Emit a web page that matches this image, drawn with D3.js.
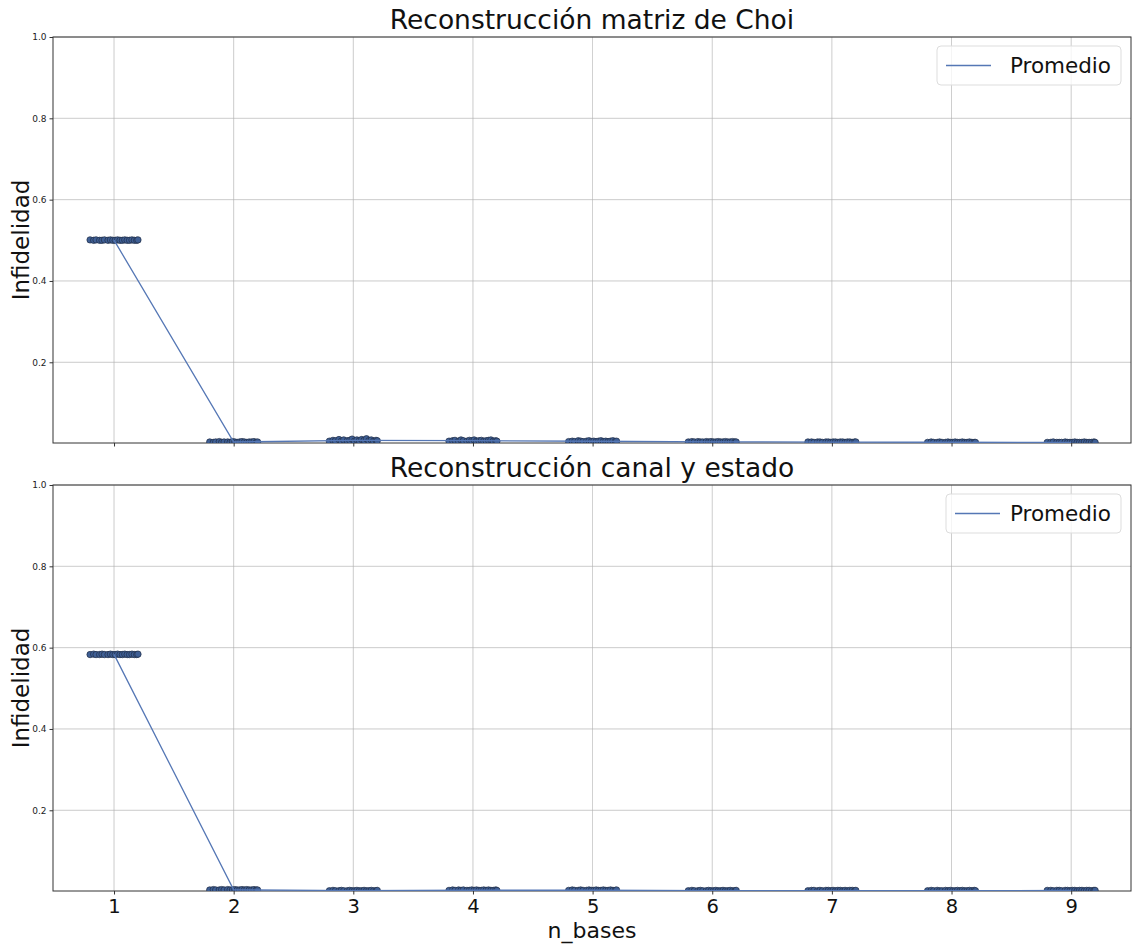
<!DOCTYPE html>
<html>
<head>
<meta charset="utf-8">
<script src="https://cdn.jsdelivr.net/npm/d3@7"></script>
<style>
  body { margin: 0; background: #fff; }
  text { font-family: "DejaVu Sans", sans-serif; }
</style>
</head>
<body>
<div id="chart"></div>
<script>
// categories (n_bases)
var nBases = [1, 2, 3, 4, 5, 6, 7, 8, 9];
var yTicks = [0.2, 0.4, 0.6, 0.8, 1.0];

// horizontal jitter of the strip points
var jitter = [-0.2, -0.17, -0.15, -0.12, -0.1, -0.08, -0.05, -0.03, -0.01, 0.01,
              0.03, 0.05, 0.07, 0.09, 0.11, 0.13, 0.15, 0.17, 0.19, 0.2];

// infidelity per run, top panel: "Reconstrucción matriz de Choi"
var choi = [
  [0.501, 0.500, 0.501, 0.500, 0.500, 0.501, 0.500, 0.501, 0.500, 0.500, 0.501, 0.500, 0.500, 0.501, 0.500, 0.500, 0.501, 0.500, 0.500, 0.501],
  [0.004, 0.003, 0.004, 0.005, 0.003, 0.004, 0.004, 0.003, 0.005, 0.004, 0.003, 0.004, 0.005, 0.004, 0.003, 0.004, 0.004, 0.005, 0.003, 0.004],
  [0.006, 0.008, 0.007, 0.010, 0.006, 0.009, 0.007, 0.008, 0.011, 0.006, 0.009, 0.007, 0.010, 0.008, 0.012, 0.007, 0.009, 0.006, 0.008, 0.007],
  [0.006, 0.007, 0.008, 0.006, 0.009, 0.007, 0.006, 0.008, 0.007, 0.009, 0.006, 0.007, 0.008, 0.006, 0.007, 0.008, 0.009, 0.006, 0.007, 0.006],
  [0.005, 0.006, 0.005, 0.007, 0.006, 0.005, 0.006, 0.007, 0.005, 0.006, 0.005, 0.006, 0.007, 0.005, 0.006, 0.005, 0.006, 0.007, 0.005, 0.006],
  [0.004, 0.005, 0.004, 0.005, 0.004, 0.004, 0.005, 0.004, 0.005, 0.004, 0.004, 0.005, 0.004, 0.004, 0.005, 0.004, 0.004, 0.005, 0.004, 0.004],
  [0.004, 0.004, 0.003, 0.004, 0.004, 0.003, 0.004, 0.004, 0.003, 0.004, 0.004, 0.003, 0.004, 0.004, 0.003, 0.004, 0.004, 0.003, 0.004, 0.004],
  [0.003, 0.004, 0.003, 0.003, 0.004, 0.003, 0.003, 0.004, 0.003, 0.003, 0.004, 0.003, 0.003, 0.004, 0.003, 0.003, 0.004, 0.003, 0.003, 0.003],
  [0.003, 0.003, 0.004, 0.003, 0.003, 0.003, 0.004, 0.003, 0.003, 0.003, 0.004, 0.003, 0.003, 0.003, 0.004, 0.003, 0.003, 0.003, 0.004, 0.003]
];

// infidelity per run, bottom panel: "Reconstrucción canal y estado"
var canal = [
  [0.583, 0.584, 0.583, 0.583, 0.584, 0.583, 0.583, 0.584, 0.583, 0.583, 0.584, 0.583, 0.583, 0.584, 0.583, 0.583, 0.584, 0.583, 0.583, 0.584],
  [0.004, 0.005, 0.004, 0.004, 0.005, 0.004, 0.005, 0.004, 0.004, 0.005, 0.004, 0.004, 0.005, 0.004, 0.005, 0.004, 0.004, 0.005, 0.004, 0.004],
  [0.002, 0.003, 0.002, 0.002, 0.003, 0.002, 0.002, 0.003, 0.002, 0.002, 0.003, 0.002, 0.002, 0.003, 0.002, 0.002, 0.003, 0.002, 0.002, 0.003],
  [0.003, 0.004, 0.003, 0.004, 0.003, 0.004, 0.003, 0.003, 0.004, 0.003, 0.004, 0.003, 0.003, 0.004, 0.003, 0.004, 0.003, 0.003, 0.004, 0.003],
  [0.003, 0.004, 0.003, 0.003, 0.004, 0.003, 0.003, 0.004, 0.003, 0.003, 0.004, 0.003, 0.003, 0.004, 0.003, 0.003, 0.004, 0.003, 0.003, 0.004],
  [0.002, 0.003, 0.002, 0.002, 0.003, 0.002, 0.002, 0.003, 0.002, 0.002, 0.003, 0.002, 0.002, 0.003, 0.002, 0.002, 0.003, 0.002, 0.002, 0.003],
  [0.002, 0.003, 0.003, 0.002, 0.003, 0.002, 0.003, 0.003, 0.002, 0.003, 0.002, 0.003, 0.003, 0.002, 0.003, 0.002, 0.003, 0.003, 0.002, 0.003],
  [0.002, 0.003, 0.002, 0.003, 0.002, 0.002, 0.003, 0.002, 0.003, 0.002, 0.002, 0.003, 0.002, 0.003, 0.002, 0.002, 0.003, 0.002, 0.003, 0.002],
  [0.003, 0.003, 0.002, 0.003, 0.003, 0.002, 0.003, 0.003, 0.002, 0.003, 0.003, 0.002, 0.003, 0.003, 0.002, 0.003, 0.003, 0.002, 0.003, 0.003]
];

var panels = [
  { title: "Reconstrucción matriz de Choi", runs: choi, top: 37, bottom: 443, xLabels: false, legendX: 937, legendW: 184 },
  { title: "Reconstrucción canal y estado", runs: canal, top: 485, bottom: 891, xLabels: true, legendX: 946, legendW: 175 }
];

var width = 1132, height = 948;
var left = 53, right = 1131;
var blue = "#4c72b0";

var svg = d3.select("#chart").append("svg")
    .attr("width", width)
    .attr("height", height);

var xScale = d3.scaleLinear()
    .domain([0.49, 9.5])
    .range([left, right]);

panels.forEach(function (p, pi) {
    var yScale = d3.scaleLinear()
        .domain([0.0015, 1.0])
        .range([p.bottom, p.top]);

    var g = svg.append("g");

    g.append("clipPath")
        .attr("id", "clip" + pi)
        .append("rect")
        .attr("x", left).attr("y", p.top)
        .attr("width", right - left).attr("height", p.bottom - p.top);

    // grid
    g.append("g")
        .selectAll("line")
        .data(nBases)
        .enter().append("line")
        .attr("x1", function (d) { return xScale(d); })
        .attr("x2", function (d) { return xScale(d); })
        .attr("y1", p.top).attr("y2", p.bottom)
        .attr("stroke", "#b0b0b0").attr("stroke-width", 0.8).attr("opacity", 0.8);

    g.append("g")
        .selectAll("line")
        .data(yTicks)
        .enter().append("line")
        .attr("x1", left).attr("x2", right)
        .attr("y1", function (d) { return yScale(d); })
        .attr("y2", function (d) { return yScale(d); })
        .attr("stroke", "#b0b0b0").attr("stroke-width", 0.8).attr("opacity", 0.8);

    // axes
    var yAxis = d3.axisLeft(yScale)
        .tickValues(yTicks)
        .tickFormat(d3.format(".1f"))
        .tickSize(3.5)
        .tickPadding(3);

    var yg = g.append("g")
        .attr("transform", "translate(" + left + ",0)")
        .call(yAxis);
    yg.select(".domain").remove();
    yg.selectAll("line").attr("stroke", "#333");
    yg.selectAll("text").attr("font-size", 9).attr("fill", "#222")
        .style("font-family", "DejaVu Sans");

    var xAxis = d3.axisBottom(xScale)
        .tickValues(nBases)
        .tickFormat(p.xLabels ? d3.format("d") : "")
        .tickSize(3.5)
        .tickPadding(5);

    var xg = g.append("g")
        .attr("transform", "translate(0," + p.bottom + ")")
        .call(xAxis);
    xg.select(".domain").remove();
    xg.selectAll("line").attr("stroke", "#333");
    xg.selectAll("text").attr("font-size", 19.5).attr("fill", "#111")
        .style("font-family", "DejaVu Sans");

    // frame
    g.append("rect")
        .attr("x", left).attr("y", p.top)
        .attr("width", right - left).attr("height", p.bottom - p.top)
        .attr("fill", "none").attr("stroke", "#333").attr("stroke-width", 1);

    // strip points
    var points = [];
    p.runs.forEach(function (vals, i) {
        vals.forEach(function (v, j) {
            points.push({ x: nBases[i] + jitter[j], y: v });
        });
    });

    var plot = g.append("g").attr("clip-path", "url(#clip" + pi + ")");

    // mean line
    var means = p.runs.map(function (vals, i) { return { x: nBases[i], y: d3.mean(vals) }; });
    var line = d3.line()
        .x(function (d) { return xScale(d.x); })
        .y(function (d) { return yScale(d.y); });

    plot.selectAll("circle")
        .data(points)
        .enter().append("circle")
        .attr("cx", function (d) { return xScale(d.x); })
        .attr("cy", function (d) { return yScale(d.y); })
        .attr("r", 3.2)
        .attr("fill", "#3f5f95")
        .attr("stroke", "#1f2d45")
        .attr("stroke-width", 0.7);

    plot.append("path")
        .datum(means)
        .attr("d", line)
        .attr("fill", "none")
        .attr("stroke", "#5577b5")
        .attr("stroke-width", 1.3);

    // title
    g.append("text")
        .attr("x", (left + right) / 2)
        .attr("y", p.top - 8)
        .attr("text-anchor", "middle")
        .attr("font-size", 26.5)
        .attr("fill", "#111")
        .text(p.title);

    // y label
    g.append("text")
        .attr("transform", "translate(29," + ((p.top + p.bottom) / 2) + ") rotate(-90)")
        .attr("text-anchor", "middle")
        .attr("font-size", 23)
        .attr("fill", "#111")
        .text("Infidelidad");

    // legend
    var lg = g.append("g")
        .attr("transform", "translate(" + p.legendX + "," + (p.top + 9) + ")");
    lg.append("rect")
        .attr("width", p.legendW).attr("height", 39)
        .attr("rx", 4)
        .attr("fill", "#fff").attr("fill-opacity", 0.8)
        .attr("stroke", "#ddd");
    lg.append("line")
        .attr("x1", 9).attr("x2", 54)
        .attr("y1", 19.5).attr("y2", 19.5)
        .attr("stroke", "#5577b5").attr("stroke-width", 1.3);
    lg.append("text")
        .attr("x", p.legendW - 10)
        .attr("y", 27)
        .attr("text-anchor", "end")
        .attr("font-size", 21.5)
        .attr("fill", "#111")
        .text("Promedio");
});

// x label
svg.append("text")
    .attr("x", (left + right) / 2)
    .attr("y", 938)
    .attr("text-anchor", "middle")
    .attr("font-size", 22)
    .attr("fill", "#111")
    .text("n_bases");
</script>
</body>
</html>
